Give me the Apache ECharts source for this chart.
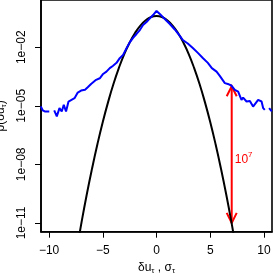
<!DOCTYPE html>
<html>
<head>
<meta charset="utf-8">
<script src="https://cdn.jsdelivr.net/npm/echarts@6/dist/echarts.min.js"></script>
<style>
html,body{margin:0;padding:0;background:#fff;}
#chart{width:273px;height:273px;}
</style>
</head>
<body>
<div id="chart"></div>
<script>
// x ticks and y ticks (y values are log10 of the density)
const xTicks = [-10, -5, 0, 5, 10];
const yTicks = [-11, -8, -5, -2];

// empirical PDF (blue), log10 p ; null = gap (no data)
const blueX = [-10.77,-10.59,-10.40,-9.98,-9.75,-9.52,-9.28,-9.03,-8.82,-8.63,-8.42,-8.19,-8.01,-7.63,-7.33,-7.02,-6.65,-6.40,-6.09,-5.62,-5.28,-4.97,-4.66,-4.35,-4.07,-3.72,-3.42,-3.11,-2.79,-2.49,-2.18,-1.86,-1.55,-1.25,-0.93,-0.62,-0.32,0,0.31,0.77,1.24,1.70,2.17,2.45,2.91,3.38,3.85,4.31,4.78,5.15,5.59,5.89,6.36,6.64,6.96,7.29,7.60,7.91,8.06,8.38,8.69,8.99,9.46,9.78,9.93,10.08,10.28,10.48,10.73];
const blueLogP = [-5.03,-5.23,-5.29,-5.29,null,-5.23,-5.54,-5.12,-5.29,-4.95,-5.29,-4.78,-4.73,-4.61,-4.32,-4.22,-4.18,-4.05,-3.88,-3.67,-3.59,-3.37,-3.25,-3.07,-2.96,-2.80,-2.56,-2.39,-2.05,-1.75,-1.52,-1.32,-1.12,-0.86,-0.71,-0.52,-0.35,-0.14,-0.30,-0.55,-0.81,-1.09,-1.42,-1.63,-1.81,-2.04,-2.29,-2.55,-2.80,-3.07,-3.25,-3.47,-3.84,-3.88,-3.96,-4.18,-4.27,-4.70,-4.58,-4.78,-4.75,-5.04,-4.70,-4.78,-5.12,-5.21,null,-5.12,-5.29];

// Gaussian reference (black), log10 p
const blackX = [-7.5,-7,-6.5,-6,-5.5,-5,-4.5,-4,-3.5,-3,-2.5,-2,-1.5,-1,-0.5,0,0.5,1,1.5,2,2.5,3,3.5,4,4.5,5,5.5,6,6.5,7,7.5];
const blackLogP = [-12.61,-11.04,-9.57,-8.22,-6.97,-5.83,-4.80,-3.87,-3.06,-2.35,-1.76,-1.27,-0.89,-0.62,-0.45,-0.40,-0.45,-0.62,-0.89,-1.27,-1.76,-2.35,-3.06,-3.87,-4.80,-5.83,-6.97,-8.22,-9.57,-11.04,-12.61];

// annotation arrow: x, top log10 p, bottom log10 p
const arrowX = [7];
const arrowTop = [-4];
const arrowBottom = [-11];
const arrowLabel = ['10', '7'];

const FONT = 'Liberation Sans, Arial, Helvetica, sans-serif';
const minus = s => String(s).replace('-', '\u2212');
const pad2 = n => (n < 10 ? '0' : '') + n;

const chart = echarts.init(document.getElementById('chart'), null, {renderer: 'canvas'});
chart.setOption({
  backgroundColor: '#fff',
  animation: false,
  grid: {left: 41, right: 1, top: 0, bottom: 41.3, containLabel: false, outerBoundsMode: 'none', show: true, borderColor: '#000', borderWidth: 1.6, backgroundColor: 'transparent'},
  xAxis: {
    type: 'value', min: -10.75, max: 10.75,
    splitLine: {show: false},
    axisLine: {show: true, onZero: false, lineStyle: {color: '#000', width: 1.6}},
    axisTick: {show: true, inside: false, length: 6, customValues: xTicks, lineStyle: {color: '#000', width: 1}},
    axisLabel: {customValues: xTicks, margin: 13, color: '#000', fontSize: 12, fontFamily: FONT, formatter: v => minus(v)},
    name: '{a|δu}{s|τ}{a| , σ}{s|τ}',
    nameLocation: 'middle', nameGap: 29,
    nameTextStyle: {fontFamily: FONT, color: '#000', rich: {
      a: {fontSize: 12, fontFamily: FONT, color: '#000'},
      s: {fontSize: 8, fontFamily: FONT, color: '#000', padding: [6, 0, 0, 0]}
    }}
  },
  yAxis: {
    type: 'value', min: -11.45, max: 0.42,
    splitLine: {show: false},
    axisLine: {show: true, onZero: false, lineStyle: {color: '#000', width: 1.6}},
    axisTick: {show: true, inside: false, length: 6, customValues: yTicks, lineStyle: {color: '#000', width: 1}},
    axisLabel: {customValues: yTicks, margin: 13, rotate: 90, color: '#000', fontSize: 12, fontFamily: FONT,
      formatter: v => '1e' + (v < 0 ? '\u2212' : '+') + pad2(Math.abs(v))},
    name: '{a|p(δu}{s|τ}{a|)}',
    nameLocation: 'middle', nameGap: 27, nameRotate: 90,
    nameTextStyle: {fontFamily: FONT, color: '#000', rich: {
      a: {fontSize: 12, fontFamily: FONT, color: '#000'},
      s: {fontSize: 8, fontFamily: FONT, color: '#000', padding: [6, 0, 0, 0]}
    }}
  },
  series: [
    {
      type: 'line', name: 'gauss', showSymbol: false, smooth: true, clip: true,
      lineStyle: {color: '#000', width: 2},
      data: blackX.map((x, i) => [x, blackLogP[i]])
    },
    {
      type: 'line', name: 'pdf', showSymbol: false, clip: true, connectNulls: false,
      lineStyle: {color: '#0000ff', width: 2},
      data: blueX.map((x, i) => [x, blueLogP[i] === null ? '-' : blueLogP[i]])
    },
    {
      type: 'custom', name: 'arrow', clip: false,
      data: arrowX.map((x, i) => [x, arrowTop[i], arrowBottom[i]]),
      renderItem: function (params, api) {
        const t = api.coord([api.value(0), api.value(1)]);
        const b = api.coord([api.value(0), api.value(2)]);
        const hl = 10, hw = 5;
        const st = {stroke: '#ff0000', lineWidth: 2, fill: null};
        return {type: 'group', children: [
          {type: 'line', shape: {x1: t[0], y1: t[1], x2: b[0], y2: b[1]}, style: st},
          {type: 'polyline', shape: {points: [[t[0] - hw, t[1] + hl], [t[0], t[1]], [t[0] + hw, t[1] + hl]]}, style: st},
          {type: 'polyline', shape: {points: [[b[0] - hw, b[1] - hl], [b[0], b[1]], [b[0] + hw, b[1] - hl]]}, style: st},
          {type: 'text', x: t[0] + 3, y: (t[1] + b[1]) / 2 + 5, style: {
            text: '{n|' + arrowLabel[0] + '}{p|' + arrowLabel[1] + '}',
            verticalAlign: 'middle', align: 'left',
            rich: {
              n: {fontSize: 12, fontFamily: FONT, fill: '#ff0000'},
              p: {fontSize: 8, fontFamily: FONT, fill: '#ff0000', padding: [0, 0, 9, 0]}
            }
          }}
        ]};
      }
    }
  ]
});
</script>
</body>
</html>
